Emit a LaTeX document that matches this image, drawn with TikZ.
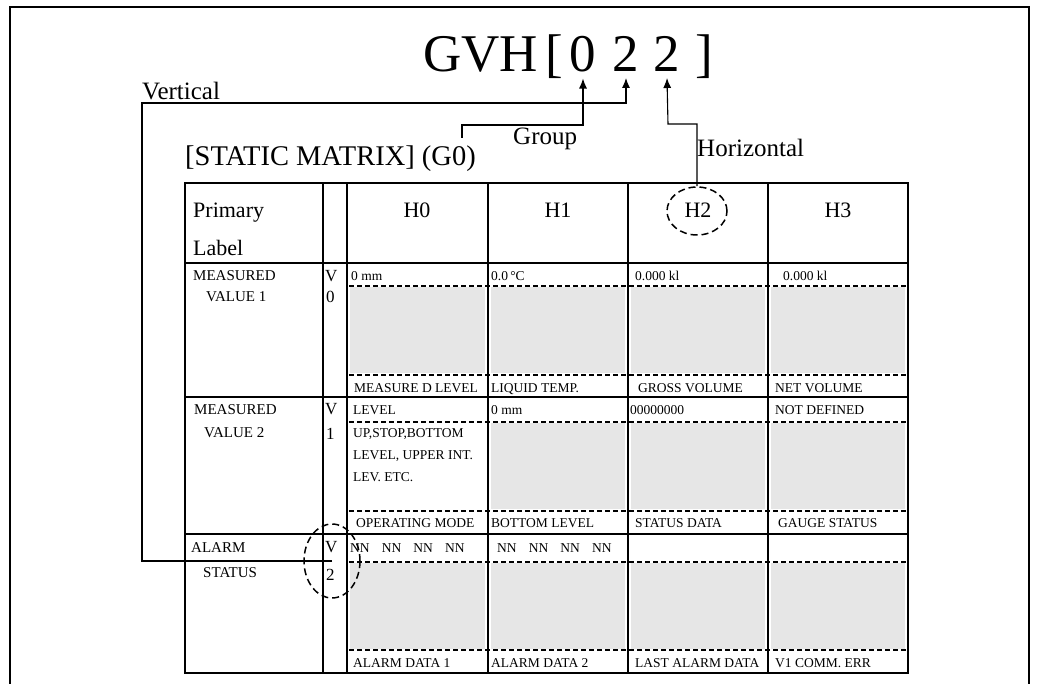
\documentclass[tikz,border=0pt]{standalone}
\usepackage{fontspec}
\setmainfont{Liberation Serif}
\usepackage{xcolor}
\usetikzlibrary{shapes.geometric,arrows.meta}

\definecolor{cellgray}{HTML}{E6E6E6}

\tikzset{
	txt/.style={inner sep=0pt, anchor=base west},
	cell/.style={txt, font=\fontsize{13.5}{15}\selectfont},
	rowlabel/.style={txt, font=\fontsize{15}{17}\selectfont},
	vtag/.style={txt, font=\fontsize{17}{19}\selectfont},
	head/.style={inner sep=0pt, anchor=base, font=\fontsize{22}{24}\selectfont},
	big/.style={inner sep=0pt, anchor=base, font=\fontsize{53}{58}\selectfont},
	callout/.style={txt, font=\fontsize{25}{28}\selectfont},
	grid/.style={line width=1.6pt},
	sep/.style={line width=2pt, dash pattern=on 5pt off 3pt},
	ring/.style={ellipse, draw, line width=1.5pt, dash pattern=on 7pt off 4pt, inner sep=0pt},
	pointer/.style={line width=1.1pt, -{Latex[length=10pt,width=8pt]}},
}

\begin{document}
\begin{tikzpicture}[x=1pt,y=-1pt]
	\useasboundingbox (0,0) rectangle (1037,684);
	
	%Frame
	\draw[line width=2pt] (10,690) |- (1029,7) -- (1029,690);
	
	%Code
	\node[big, anchor=base west] (gvh) at (423,72) {GVH};
	\node[big] (lbr) at (554,72) {[};
	\node[big, outer sep=6pt] (d0) at (583,72) {0};
	\node[big, outer sep=6pt] (d1) at (626,72) {2};
	\node[big, outer sep=6pt] (d2) at (667,72) {2};
	\node[big] (rbr) at (704,72) {]};
	
	%Title
	\node[txt, font=\fontsize{28.5}{30}\selectfont] (title) at (185,166) {[STATIC MATRIX] (G0)};
	
	%Shaded fields
	\foreach \t/\b in {287/373, 563/649}
		\foreach \l/\r in {347/488, 488/628, 628/768, 768/908}
			\fill[cellgray] (\l+3,\t) rectangle (\r-3,\b);
	\foreach \l/\r in {488/628, 628/768, 768/908}
		\fill[cellgray] (\l+3,423) rectangle (\r-3,509);
	
	%Separators
	\foreach \y in {286,375,422,511,562,650}
		\draw[sep] (349,\y) -- (907,\y);
	
	%Table
	\draw[grid] (185,183) rectangle (908,673);
	\foreach \x in {323,347,488,628,768}
		\draw[grid] (\x,183) -- (\x,673);
	\foreach \y in {263,397,534}
		\draw[grid] (185,\y) -- (908,\y);
	\draw[line width=2.6pt] (185,673) -- (908,673);
	
	%Header
	\node[txt, font=\fontsize{22}{24}\selectfont] (prim) at (193,218) {Primary};
	\node[txt, font=\fontsize{22}{24}\selectfont] (lbl) at (193,256) {Label};
	\node[head] (h0) at (417,218) {H0};
	\node[head] (h1) at (558,218) {H1};
	\node[head] (h2) at (698,218) {H2};
	\node[head] (h3) at (838,218) {H3};
	
	%Row V0
	\node[rowlabel] (mv1a) at (193,281) {MEASURED};
	\node[rowlabel] (mv1b) at (206,302) {VALUE 1};
	\node[vtag] (v0a) at (325,282) {V};
	\node[vtag] (v0b) at (326,303) {0};
	\node[cell] (c00) at (351,281) {0 mm};
	\node[cell] (c01) at (491,281) {0.0\,°C};
	\node[cell] (c02) at (635,281) {0.000 kl};
	\node[cell] (c03) at (783,281) {0.000 kl};
	\node[cell] (n00) at (354,393) {MEASURE D LEVEL};
	\node[cell] (n01) at (491,393) {LIQUID TEMP.};
	\node[cell] (n02) at (638,393) {GROSS VOLUME};
	\node[cell] (n03) at (775,393) {NET VOLUME};
	
	%Row V1
	\node[rowlabel] (mv2a) at (194,415) {MEASURED};
	\node[rowlabel] (mv2b) at (204,438) {VALUE 2};
	\node[vtag] (v1a) at (325,415) {V};
	\node[vtag] (v1b) at (326,440) {1};
	\node[cell] (c10) at (353,415) {LEVEL};
	\node[cell] (c11) at (491,415) {0 mm};
	\node[cell] (c12) at (630,415) {00000000};
	\node[cell] (c13) at (775,415) {NOT DEFINED};
	\node[cell] (m1) at (353,438) {UP,STOP,BOTTOM};
	\node[cell] (m2) at (353,460) {LEVEL, UPPER INT.};
	\node[cell] (m3) at (353,482) {LEV. ETC.};
	\node[cell] (n10) at (356,528) {OPERATING MODE};
	\node[cell] (n11) at (491,528) {BOTTOM LEVEL};
	\node[cell] (n12) at (635,528) {STATUS DATA};
	\node[cell] (n13) at (778,528) {GAUGE STATUS};
	
	%Row V2
	\node[rowlabel] (ala) at (191,553) {ALARM};
	\node[rowlabel] (alb) at (203,577) {STATUS};
	\node[vtag] (v2a) at (325,553) {V};
	\node[vtag] (v2b) at (326,580) {2};
	\node[cell] (c20) at (350,553) {NN\hspace{0.9em}NN\hspace{0.9em}NN\hspace{0.9em}NN};
	\node[cell] (c21) at (497,553) {NN\hspace{0.9em}NN\hspace{0.9em}NN\hspace{0.9em}NN};
	\node[cell] (n20) at (353,667) {ALARM DATA 1};
	\node[cell] (n21) at (491,667) {ALARM DATA 2};
	\node[cell] (n22) at (635,667) {LAST ALARM DATA};
	\node[cell] (n23) at (775,667) {V1 COMM. ERR};
	
	%Rings
	\node[ring, minimum width=60pt, minimum height=48pt] (h2ring) at (697,211) {};
	\node[ring, minimum width=56pt, minimum height=74pt] (v2ring) at (332,561) {};
	
	%Callouts
	\node[callout] (vert) at (142,100) {Vertical};
	\node[callout] (grp) at (513,145) {Group};
	\node[callout] (hor) at (697,157) {Horizontal};
	
	%Lines
	\coordinate (vbend) at (142,103);
	\coordinate (gstart) at (462,138);
	\coordinate (gbend) at (583,125);
	\coordinate (hbend) at (668,124);
	\draw[pointer] (v2ring.center) -| (vbend) -| (d1.south);
	\draw[pointer] (gstart) |- (gbend) -- (d0.south);
	\draw[pointer] (h2ring.north) |- (hbend) -- (d2.south);
\end{tikzpicture}
\end{document}
